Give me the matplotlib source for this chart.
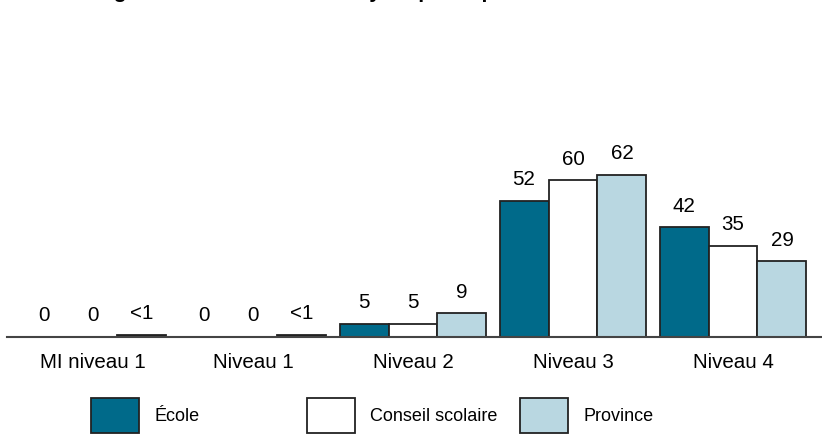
import matplotlib
matplotlib.use("Agg")
import matplotlib.pyplot as plt
from matplotlib.patches import Rectangle
import numpy as np

plt.rcParams['font.family'] = ['Liberation Sans', 'DejaVu Sans']

title = "Pourcentage des élèves de l'école ayant participé"
categories = ["MI niveau 1", "Niveau 1", "Niveau 2", "Niveau 3", "Niveau 4"]
series_names = ["École", "Conseil scolaire", "Province"]
ecole = [0, 0, 5, 52, 42]
conseil = [0, 0, 5, 60, 35]
province = [0.8, 0.8, 9, 62, 29]
ecole_labels = ["0", "0", "5", "52", "42"]
conseil_labels = ["0", "0", "5", "60", "35"]
province_labels = ["<1", "<1", "9", "62", "29"]
colors = ["#006a8a", "#ffffff", "#b9d7e1"]

W, H = 822, 439
fig = plt.figure(figsize=(W / 100, H / 100), dpi=100)
ax = fig.add_axes([7 / W, 101 / H, 815 / W, 261.3 / H])

x = np.arange(len(categories))
w = 0.306
series = [(ecole, ecole_labels), (conseil, conseil_labels), (province, province_labels)]
for j, (vals, labs) in enumerate(series):
    bars = ax.bar(x + (j - 1) * w, vals, w, color=colors[j],
                  edgecolor='#222222', linewidth=1.3)
    for b, lab, v in zip(bars, labs, vals):
        # "<1" bars are so thin they read as a black line
        if lab == "<1":
            b.set_facecolor('#111111')
        ax.annotate(lab, (b.get_x() + b.get_width() / 2, b.get_height()),
                    xytext=(0, 12), textcoords='offset points',
                    ha='center', va='baseline', fontsize=14.8)

ax.set_xlim((7 - 93) / 160, (822 - 93) / 160)
ax.set_ylim(0, 100)
for s in ['top', 'left', 'right']:
    ax.spines[s].set_visible(False)
ax.spines['bottom'].set_color('#444444')
ax.spines['bottom'].set_linewidth(1.5)
ax.set_yticks([])
ax.set_xticks(x)
ax.set_xticklabels(categories, fontsize=14.8)
ax.tick_params(axis='x', length=0, pad=11)

# legend and title drawn in pixel space
lax = fig.add_axes([0, 0, 1, 1])
lax.set_xlim(0, W)
lax.set_ylim(H, 0)
lax.axis('off')
for name, c, px in zip(series_names, colors, [91, 307, 520]):
    lax.add_patch(Rectangle((px, 399), 48, 35, facecolor=c,
                            edgecolor='#222222', linewidth=1.3))
    lax.text(px + 63, 417, name, fontsize=13, va='center')

lax.text(11, -1.7, title, fontsize=15.1, fontweight='bold', va='baseline')

fig.savefig("out.png", dpi=100)
